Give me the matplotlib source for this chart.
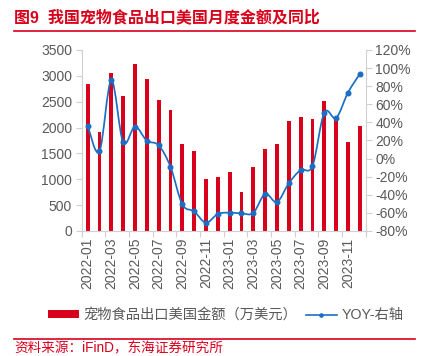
import numpy as np
import matplotlib
matplotlib.use("Agg")
import matplotlib.pyplot as plt
from matplotlib.path import Path
from matplotlib.patches import PathPatch, Patch
from matplotlib.lines import Line2D
from matplotlib.ticker import FixedLocator, FuncFormatter

plt.rcParams['font.family'] = ['Liberation Sans', 'Noto Sans CJK SC', 'DejaVu Sans']

months = ['2022-01', '2022-02', '2022-03', '2022-04', '2022-05', '2022-06',
          '2022-07', '2022-08', '2022-09', '2022-10', '2022-11', '2022-12',
          '2023-01', '2023-02', '2023-03', '2023-04', '2023-05', '2023-06',
          '2023-07', '2023-08', '2023-09', '2023-10', '2023-11', '2023-12']
amount = [2850, 1910, 3050, 2620, 3220, 2930, 2530, 2340, 1680, 1540, 1000, 1050,
          1140, 755, 1230, 1590, 1680, 2120, 2200, 2165, 2520, 2210, 1725, 2030]
yoy = [36.4, 8.0, 86.5, 18.0, 35.3, 19.8, 14.7, -8.9, -50.5, -58.3, -70.8, -61.2,
       -59.7, -60.5, -60.0, -39.0, -48.0, -27.3, -12.6, -8.2, 50.7, 44.9, 72.9, 93.5]

bar_label = '宠物食品出口美国金额（万美元）'
line_label = 'YOY-右轴'
title = '图9  我国宠物食品出口美国月度金额及同比'
source = '资料来源：iFinD，东海证券研究所'

RED = '#d9001b'
BLUE = '#1a6fc4'
GRAY = '#595959'
SPINE = '#d0d0d0'

W, H = 424, 356
fig = plt.figure(figsize=(W / 100, H / 100), dpi=100)
ax = fig.add_axes([81.7 / W, 1 - 231 / H, (365.7 - 81.7) / W, (231 - 50) / H])
ax2 = ax.twinx()

x = np.arange(len(months))
ax.bar(x, amount, width=0.32, color=RED, zorder=2)
ax.set_xlim(-0.5, len(months) - 0.5)
ax.set_ylim(0, 3500)
ax.set_yticks(np.arange(0, 3501, 500))
ax2.set_ylim(-80, 120)
ax2.set_yticks(np.arange(-80, 121, 20))
ax2.yaxis.set_major_formatter(FuncFormatter(lambda v, p: f'{int(v)}%'))

# x ticks: marks at boundaries, labels every two months
ax.xaxis.set_major_locator(FixedLocator(np.arange(-0.5, len(months), 2)))
ax.xaxis.set_minor_locator(FixedLocator(x[::2]))
ax.set_xticklabels([])
ax.set_xticklabels([months[i] for i in x[::2]], minor=True, rotation=90)
ax.tick_params(axis='x', which='major', length=4, color=SPINE, width=0.8)
ax.tick_params(axis='x', which='minor', length=0, pad=5, labelsize=10, labelcolor=GRAY)
ax.tick_params(axis='y', length=4, color=SPINE, width=0.8, labelsize=10, labelcolor=GRAY, pad=3)
ax2.tick_params(axis='y', length=4, color=SPINE, width=0.8, labelsize=10, labelcolor=GRAY, pad=3)

for a in (ax, ax2):
    for s in a.spines.values():
        s.set_visible(False)
ax.spines['left'].set_visible(True)
ax.spines['bottom'].set_visible(True)
ax2.spines['right'].set_visible(True)
for s in (ax.spines['left'], ax.spines['bottom'], ax2.spines['right']):
    s.set_color(SPINE)
    s.set_linewidth(0.8)

# smoothed YOY line (Catmull-Rom style Bezier through the data points)
pts = np.column_stack([x, yoy]).astype(float)
verts = [tuple(pts[0])]
codes = [Path.MOVETO]
n = len(pts)
for i in range(n - 1):
    p0 = pts[i - 1] if i > 0 else pts[i]
    p1 = pts[i]
    p2 = pts[i + 1]
    p3 = pts[i + 2] if i + 2 < n else pts[i + 1]
    c1 = p1 + (p2 - p0) / 6.0
    c2 = p2 - (p3 - p1) / 6.0
    verts += [tuple(c1), tuple(c2), tuple(p2)]
    codes += [Path.CURVE4] * 3
ax2.add_patch(PathPatch(Path(verts, codes), facecolor='none', edgecolor=BLUE,
                        lw=1.25, zorder=3))
ax2.plot(x, yoy, linestyle='none', marker='o', markersize=3.3, color=BLUE, zorder=4)

# legend
handles = [Patch(facecolor=RED, edgecolor='none'),
           Line2D([], [], color=BLUE, lw=1.2, marker='o', markersize=2.3)]
fig.legend(handles, [bar_label, line_label], loc='center', bbox_to_anchor=(0.532, 1 - 315 / H),
           ncol=2, frameon=False, fontsize=10.3, handlelength=2.2, handleheight=0.45,
           handletextpad=0.3, columnspacing=0.6, labelcolor=GRAY, borderpad=0)

# title, separators and source
fig.text(14 / W, 1 - 17 / H, title, color=RED, fontsize=11.5, fontweight='bold',
         ha='left', va='center')
fig.add_artist(Line2D([14 / W, 415 / W], [1 - 31 / H, 1 - 31 / H], color=RED, lw=1.2))
fig.add_artist(Line2D([14 / W, 415 / W], [1 - 339 / H, 1 - 339 / H], color=RED, lw=1.2))
fig.text(14 / W, 1 / H, source, color=RED, fontsize=9.8, ha='left', va='bottom')

fig.savefig('out.png', dpi=100)
